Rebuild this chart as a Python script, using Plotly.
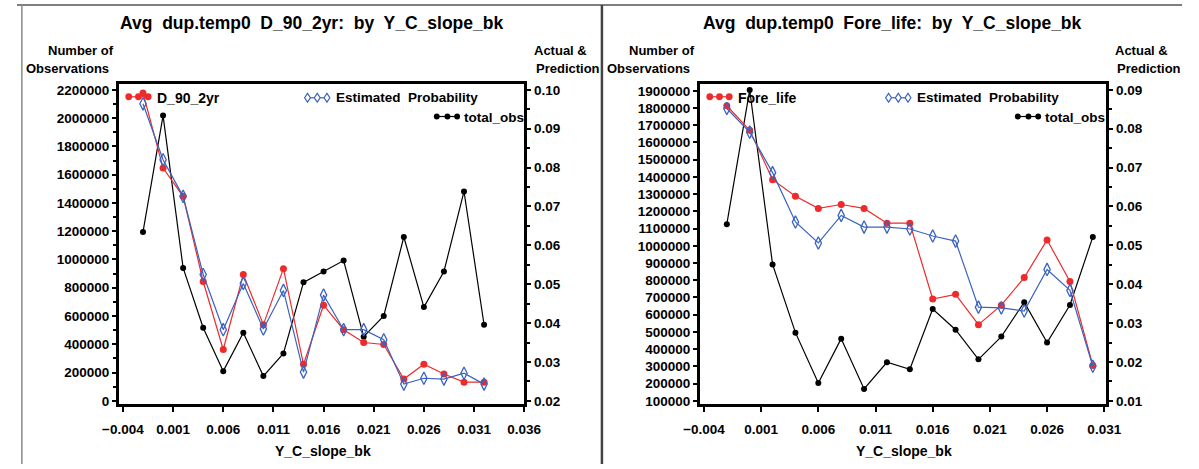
import plotly.graph_objects as go

# ---------------- data ----------------
x_left = [-0.002, 0.000, 0.002, 0.004, 0.006, 0.008, 0.010, 0.012, 0.014,
          0.016, 0.018, 0.020, 0.022, 0.024, 0.026, 0.028, 0.030, 0.032]
obs_left = [1195000, 2018000, 940000, 517000, 210000, 482000, 175000, 335000, 838000,
            915000, 992000, 454000, 600000, 1159000, 663000, 915000, 1481000, 538000]
d90_actual = [0.0992, 0.0799, 0.0726, 0.0507, 0.0332, 0.0525, 0.0396, 0.0540, 0.0294,
              0.0446, 0.0383, 0.0350, 0.0345, 0.0256, 0.0294, 0.0269, 0.0248, 0.0248]
d90_pred = [0.0964, 0.0820, 0.0726, 0.0525, 0.0383, 0.0502, 0.0385, 0.0484, 0.0274,
            0.0472, 0.0383, 0.0383, 0.0357, 0.0243, 0.0258, 0.0256, 0.0271, 0.0243]

x_right = [-0.002, 0.000, 0.002, 0.004, 0.006, 0.008, 0.010, 0.012, 0.014,
           0.016, 0.018, 0.020, 0.022, 0.024, 0.026, 0.028, 0.030]
obs_right = [1126000, 1905000, 892000, 496000, 203000, 461000, 169000, 324000, 283000,
             633000, 513000, 341000, 473000, 673000, 438000, 656000, 1052000]
fore_actual = [0.0859, 0.0796, 0.0669, 0.0626, 0.0595, 0.0605, 0.0595, 0.0557, 0.0557,
               0.0362, 0.0374, 0.0296, 0.0346, 0.0417, 0.0514, 0.0407, 0.0191]
fore_pred = [0.0852, 0.0791, 0.0687, 0.0560, 0.0506, 0.0577, 0.0547, 0.0547, 0.0542,
             0.0524, 0.0511, 0.0341, 0.0339, 0.0331, 0.0438, 0.0384, 0.0189]

titles = ["Avg\u00a0 dup.temp0\u00a0 D_90_2yr:\u00a0 by\u00a0 Y_C_slope_bk",
          "Avg\u00a0 dup.temp0\u00a0 Fore_life:\u00a0 by\u00a0 Y_C_slope_bk"]
actual_names = ["D_90_2yr", "Fore_life"]
pred_name = "Estimated\u00a0 Probability"
obs_name = "total_obs"
x_title = "Y_C_slope_bk"

# ---------------- style ----------------
W, H = 1199, 469
RED = "#EE2B2B"
BLUE = "#3A63C0"
BLACK = "#000000"
FONT = "Liberation Sans"


def px(x):
    return x / W


def py(y):
    return 1 - y / H


fig = go.Figure()

# left panel
fig.add_trace(go.Scatter(x=x_left, y=d90_actual, xaxis="x", yaxis="y2", mode="lines+markers",
                         line=dict(color=RED, width=1.2), marker=dict(symbol="circle", size=7, color=RED),
                         showlegend=False))
fig.add_trace(go.Scatter(x=x_left, y=d90_pred, xaxis="x", yaxis="y2", mode="lines+markers",
                         line=dict(color=BLUE, width=1.2),
                         marker=dict(symbol="diamond-tall-open", size=9, color=BLUE, line=dict(width=1.3)),
                         showlegend=False))
fig.add_trace(go.Scatter(x=x_left, y=obs_left, xaxis="x", yaxis="y", mode="lines+markers",
                         line=dict(color=BLACK, width=1.2), marker=dict(symbol="circle", size=6, color=BLACK),
                         showlegend=False))
# right panel
fig.add_trace(go.Scatter(x=x_right, y=fore_actual, xaxis="x2", yaxis="y4", mode="lines+markers",
                         line=dict(color=RED, width=1.2), marker=dict(symbol="circle", size=7, color=RED),
                         showlegend=False))
fig.add_trace(go.Scatter(x=x_right, y=fore_pred, xaxis="x2", yaxis="y4", mode="lines+markers",
                         line=dict(color=BLUE, width=1.2),
                         marker=dict(symbol="diamond-tall-open", size=9, color=BLUE, line=dict(width=1.3)),
                         showlegend=False))
fig.add_trace(go.Scatter(x=x_right, y=obs_right, xaxis="x2", yaxis="y3", mode="lines+markers",
                         line=dict(color=BLACK, width=1.2), marker=dict(symbol="circle", size=6, color=BLACK),
                         showlegend=False))

tickfont = dict(family=FONT, size=13.5, color="black", weight="bold")
axis_common = dict(showline=True, linewidth=3, linecolor="black", ticks="outside", ticklen=4,
                   tickwidth=1.5, tickcolor="black", showgrid=False, zeroline=False,
                   tickfont=tickfont, fixedrange=True)
xaxis_common = {k: v for k, v in axis_common.items() if k != "ticklen"}

ytop, ybot = 84, 408
ydom = [py(ybot), py(ytop)]

L = dict(x0=105, x1=522)
R = dict(x0=703, x1=1121)

fig.update_layout(
    width=W, height=H, margin=dict(l=0, r=0, t=0, b=0),
    paper_bgcolor="white", plot_bgcolor="white",
    font=dict(family=FONT, color="black", weight="bold"),
    xaxis=dict(domain=[px(L["x0"]), px(L["x1"])], anchor="y", range=[-0.00439, 0.036],
               tickvals=[-0.004, 0.001, 0.006, 0.011, 0.016, 0.021, 0.026, 0.031, 0.036],
               tickformat=".3f", ticklen=5, ticklabelstandoff=6, mirror=True, **xaxis_common),
    yaxis=dict(domain=ydom, anchor="x", range=[-20952, 2241905], dtick=200000, tick0=0,
               tickformat="d", minor=dict(dtick=100000, ticklen=3, tickcolor="black", ticks="outside"),
               **axis_common),
    yaxis2=dict(domain=ydom, anchor="x", overlaying="y", side="right", range=[0.01924, 0.10152],
                dtick=0.01, tick0=0, tickformat=".2f",
                minor=dict(dtick=0.005, ticklen=3, tickcolor="black", ticks="outside"),
                **axis_common),
    xaxis2=dict(domain=[px(R["x0"]), px(R["x1"])], anchor="y3", range=[-0.00434, 0.03117],
                tickvals=[-0.004, 0.001, 0.006, 0.011, 0.016, 0.021, 0.026, 0.031],
                tickformat=".3f", ticklen=5, ticklabelstandoff=6, mirror=True, **xaxis_common),
    yaxis3=dict(domain=ydom, anchor="x2", range=[82803, 1940127], dtick=100000, tick0=0,
                tickformat="d", **axis_common),
    yaxis4=dict(domain=ydom, anchor="x2", overlaying="y3", side="right", range=[0.00924, 0.09152],
                dtick=0.01, tick0=0, tickformat=".2f",
                minor=dict(dtick=0.005, ticklen=3, tickcolor="black", ticks="outside"),
                **axis_common),
)

ann = []
shapes = []


def text(x, y, s, size=13.5, xanchor="center"):
    ann.append(dict(x=px(x), y=py(y), xref="paper", yref="paper", text=s, showarrow=False,
                    xanchor=xanchor, yanchor="middle",
                    font=dict(family=FONT, size=size, color="black", weight="bold")))


def dot(cx, cy, r, color):
    shapes.append(dict(type="circle", xref="paper", yref="paper", x0=px(cx - r), x1=px(cx + r),
                       y0=py(cy + r), y1=py(cy - r), fillcolor=color, line=dict(color=color, width=0)))


def diamond(cx, cy, color):
    w, h = 3, 4.5
    path = (f"M {px(cx - w)},{py(cy)} L {px(cx)},{py(cy - h)} L {px(cx + w)},{py(cy)} "
            f"L {px(cx)},{py(cy + h)} Z")
    shapes.append(dict(type="path", xref="paper", yref="paper", path=path,
                       line=dict(color=color, width=1.2), fillcolor="white"))


def hline(x0, x1, y, color, width=1.2):
    shapes.append(dict(type="line", xref="paper", yref="paper", x0=px(x0), x1=px(x1), y0=py(y), y1=py(y),
                       line=dict(color=color, width=width)))


for i, off in enumerate([0, 598]):
    # title
    text(303 + off, 22, titles[i], size=17.5)
    # axis labels
    text(66 + off, 50, "Number of", size=13)
    text(52 + off, 68, "Observations", size=13)
    text(559 + off, 50, "Actual &amp;", size=13)
    text(567 + off, 68, "Prediction", size=13)
    text(315 + off, 456, x_title, size=14)
    # legend: actual
    hline(113 + off, 136 + off, 97, RED)
    for cx in (115, 125, 135):
        dot(cx + off, 97, 3.5, RED)
    text(142 + off, 98, actual_names[i], size=14, xanchor="left")
    # legend: estimated probability
    hline(297 + off, 320 + off, 98, BLUE)
    for cx in (299, 309, 319):
        diamond(cx + off, 98, BLUE)
    text(326 + off, 98, pred_name, size=13.5, xanchor="left")
    # legend: total_obs
    hline(431 + off, 454 + off, 117, BLACK)
    for cx in (432, 443, 453):
        dot(cx + off, 117, 3, BLACK)
    text(458 + off, 118, obs_name, size=13.5, xanchor="left")

# page frame lines
hline(0, W, 4, "#555555", 1.5)
shapes.append(dict(type="line", xref="paper", yref="paper", x0=px(5), x1=px(5), y0=py(4), y1=py(H),
                   line=dict(color="#8a8a8a", width=1.5)))
shapes.append(dict(type="line", xref="paper", yref="paper", x0=px(602), x1=px(602), y0=py(4), y1=py(H),
                   line=dict(color="#444444", width=2.5)))

fig.update_layout(annotations=ann, shapes=shapes)
fig.write_html("out.html", config={"displayModeBar": False},
               post_script="document.body.style.margin='0';document.body.style.overflow='hidden';")
